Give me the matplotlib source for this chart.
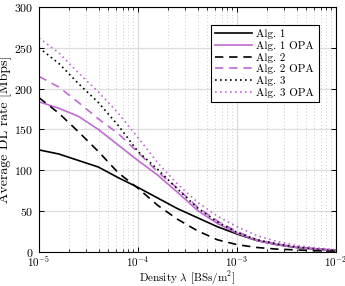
import numpy as np
import matplotlib
matplotlib.use("Agg")
import matplotlib.pyplot as plt

plt.rcParams['font.family'] = ['cmr10', 'DejaVu Serif']
plt.rcParams['mathtext.fontset'] = 'cm'
plt.rcParams['axes.formatter.use_mathtext'] = True
plt.rcParams['font.size'] = 8

density = 10.0 ** np.arange(-5, -1.99, 0.2)

alg1 = [125, 120, 112, 104, 91, 79, 66, 53, 42, 31, 22, 14, 9, 5.5, 3.5, 2]
alg1_opa = [184, 176, 166, 150, 131, 112, 94, 73, 51, 35, 23, 14, 9, 5.5, 3.5, 1.8]
alg2 = [189, 170, 147, 123, 97, 78, 57, 40, 26, 15, 9, 5.5, 3.5, 2.5, 1.5, 1]
alg2_opa = [215, 202, 183, 163, 145, 122, 98, 78, 55, 38, 25, 15, 10, 6, 4, 2]
alg3 = [250, 231, 206, 183, 155, 123, 101, 77, 54, 37, 24, 15, 10, 6, 4, 2]
alg3_opa = [262, 244, 219, 196, 170, 140, 109, 83, 61, 44, 31, 20, 13, 8, 5, 2.5]

labels = ['Alg. 1', 'Alg. 1 OPA', 'Alg. 2', 'Alg. 2 OPA', 'Alg. 3', 'Alg. 3 OPA']
purple = '#c06ad2'

fig = plt.figure(figsize=(3.45, 2.86), dpi=100)
ax = fig.add_axes([0.113, 0.119, 0.861, 0.8565])

lw = 1.2
ax.plot(density, alg1, color='black', lw=lw, ls='-', label=labels[0])
ax.plot(density, alg1_opa, color=purple, lw=lw, ls='-', label=labels[1])
ax.plot(density, alg2, color='black', lw=lw, ls=(0, (5, 3.5)), label=labels[2])
ax.plot(density, alg2_opa, color=purple, lw=lw, ls=(0, (5, 3.5)), label=labels[3])
ax.plot(density, alg3, color='black', lw=lw, ls=(0, (1, 2)), label=labels[4])
ax.plot(density, alg3_opa, color=purple, lw=lw, ls=(0, (1, 2)), label=labels[5])

ax.set_xscale('log')
ax.set_xlim(1e-5, 1e-2)
ax.set_ylim(0, 300)
ax.set_yticks([0, 50, 100, 150, 200, 250, 300])

ax.grid(True, which='major', color='#dcdcdc', lw=0.9, ls='-')
ax.grid(True, which='minor', axis='x', color='#bbbbbb', lw=0.6, ls=(0, (1, 3)))
ax.set_axisbelow(True)

ax.tick_params(which='both', direction='in', top=True, right=True)
ax.tick_params(which='major', length=3.5, width=0.7)
ax.tick_params(which='minor', length=2, width=0.6)
ax.tick_params(axis='x', which='major', pad=2)
ax.tick_params(axis='y', which='major', labelsize=8.5, pad=4)
for s in ax.spines.values():
    s.set_linewidth(0.8)

ax.set_xlabel(r'Density $\lambda$ [BSs/m$^2$]', labelpad=0)
ax.set_ylabel('Average DL rate [Mbps]', fontsize=10)
ax.yaxis.set_label_coords(-0.09, 0.5)

leg = ax.legend(loc='upper right', bbox_to_anchor=(0.96, 0.95), fancybox=False,
                edgecolor='black', framealpha=1, handlelength=3.3,
                borderpad=0.4, labelspacing=0.15, handletextpad=0.4, fontsize=8)
leg.get_frame().set_linewidth(0.8)

fig.savefig('out.png', dpi=100)
